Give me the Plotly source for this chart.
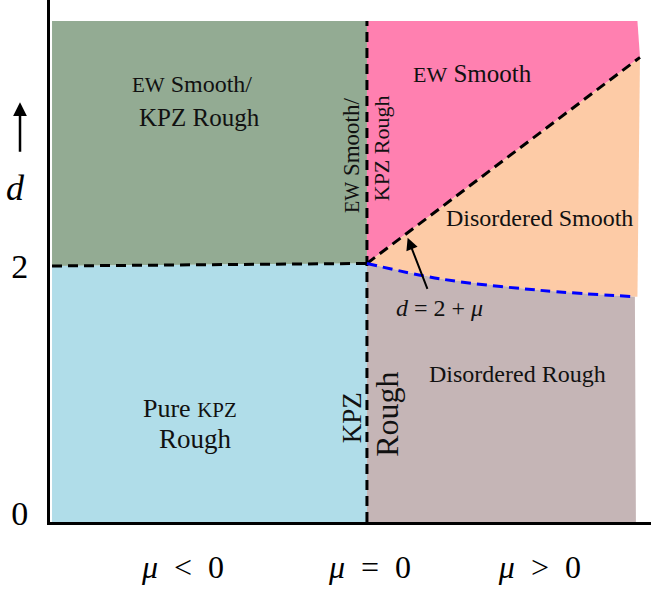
import plotly.graph_objects as go

# ---- phase boundary data (mu, d) ----
mu_left = -1.857
mu_top = 3.914
d_left_border = [2.00, 2.02]          # horizontal boundary d~2 for mu<0 (at mu_left, at 0)
mu_diag = [0.0, 1.61]                 # d = 2 + mu line
d_diag = [2.02, 3.63]
mu_blue = [0.0, 0.43, 1.02, 1.58]     # disordered smooth/rough boundary
d_blue = [2.02, 1.90, 1.81, 1.76]
mu_right_top = 1.595
mu_right_bottom = 1.586

colors = {
    "green": "#93ab93",
    "blue": "#b0dde9",
    "pink": "#ff80b0",
    "peach": "#fdcba6",
    "mauve": "#c5b5b6",
}

FONT = "Liberation Serif"

fig = go.Figure()

def region(xs, ys, color):
    fig.add_trace(go.Scatter(x=xs, y=ys, fill="toself", fillcolor=color,
                             mode="none", hoverinfo="skip", showlegend=False))

# green: EW smooth / KPZ rough (mu<0, d>2)
region([mu_left, mu_left, 0, 0], [d_left_border[0], mu_top, mu_top, d_left_border[1]], colors["green"])
# light blue: pure KPZ rough (mu<0, d<2)
region([mu_left, mu_left, 0, 0], [0, d_left_border[0], d_left_border[1], 0], colors["blue"])
# pink: EW smooth (mu>0, above d=2+mu)
region([0, 0, mu_right_top, mu_diag[1], mu_diag[0]],
       [d_diag[0], mu_top, mu_top, d_diag[1], d_diag[0]], colors["pink"])
# peach: disordered smooth
region([mu_diag[0], mu_diag[1], mu_right_top] + mu_blue[::-1],
       [d_diag[0], d_diag[1], d_blue[-1]] + d_blue[::-1], colors["peach"])
# mauve: disordered rough
region([0] + mu_blue + [mu_right_bottom, 0],
       [0] + d_blue + [0, 0], colors["mauve"])

# dashed boundaries
dash = "10px,6px"
fig.add_trace(go.Scatter(x=[mu_left, 0], y=d_left_border, mode="lines",
                         line=dict(color="black", width=3, dash=dash),
                         hoverinfo="skip", showlegend=False))
fig.add_trace(go.Scatter(x=[0, 0], y=[0, mu_top], mode="lines",
                         line=dict(color="black", width=3, dash=dash),
                         hoverinfo="skip", showlegend=False))
fig.add_trace(go.Scatter(x=mu_diag, y=d_diag, mode="lines",
                         line=dict(color="black", width=3, dash=dash),
                         hoverinfo="skip", showlegend=False))
fig.add_trace(go.Scatter(x=mu_blue, y=d_blue, mode="lines", line_shape="spline",
                         line=dict(color="#0000ff", width=3, dash=dash),
                         hoverinfo="skip", showlegend=False))

def sc(t, size):
    return "<span style='font-size:%dpx'>%s</span>" % (size, t)

# labels: text, mu, d, size, angle
labels = [
    (sc("EW", 21) + " Smooth/", -1.03, 3.42, 24, 0),
    ("KPZ Rough", -0.99, 3.16, 25, 0),
    (sc("EW", 22) + " Smooth", 0.625, 3.50, 25, 0),
    (sc("EW", 20) + " Smooth/", -0.088, 2.86, 23, -90),
    ("KPZ Rough", 0.083, 2.92, 22, -90),
    ("Disordered Smooth", 1.02, 2.375, 24, 0),
    ("<i>d</i> = 2 + <i>μ</i>", 0.43, 1.672, 24, 0),
    ("Disordered Rough", 0.89, 1.156, 24, 0),
    ("Pure " + sc("KPZ", 21), -1.044, 0.89, 26, 0),
    ("Rough", -1.01, 0.65, 27, 0),
    ("KPZ", -0.088, 0.81, 27, -90),
    ("Rough", 0.12, 0.84, 32, -90),
]
for text, x, y, size, ang in labels:
    fig.add_annotation(x=x, y=y, text=text, showarrow=False, textangle=ang,
                       font=dict(family=FONT, size=size, color="#111"))

# arrow pointing to d = 2 + mu line
fig.add_annotation(x=0.24, y=2.22, ax=0.36, ay=1.81, axref="x", ayref="y",
                   text="", showarrow=True, arrowhead=2, arrowsize=1.2,
                   arrowwidth=2, arrowcolor="black")

# d axis label with arrow
fig.add_annotation(xref="paper", x=-0.0566, xanchor="center", y=2.61, text="<i>d</i>",
                   showarrow=False, font=dict(family=FONT, size=36, color="black"))
fig.add_annotation(xref="paper", x=-0.0499, y=3.28, ax=0, ay=51, text="", showarrow=True,
                   arrowhead=2, arrowsize=1.1, arrowwidth=2.5, arrowcolor="black")

x_tick_vals = [-1.085, 0.018, 1.02]
x_tick_text = ["<i>μ</i>  <  0", "<i>μ</i>  =  0", "<i>μ</i>  >  0"]
y_tick_vals = [0.07, 2.0]
y_tick_text = ["0", "2"]

fig.update_xaxes(range=[-1.869, 1.675], showgrid=False, zeroline=False,
                 showline=True, linecolor="black", linewidth=3,
                 tickvals=x_tick_vals, ticktext=x_tick_text, ticks="",
                 ticklabelstandoff=15,
                 tickfont=dict(family=FONT, size=32, color="black"))
fig.update_yaxes(range=[0, 4.078], showgrid=False, zeroline=False,
                 showline=True, linecolor="black", linewidth=3,
                 tickvals=y_tick_vals, ticktext=y_tick_text, ticks="",
                 ticklabelstandoff=12,
                 tickfont=dict(family=FONT, size=34, color="black"))

fig.update_layout(width=651, height=594,
                  margin=dict(l=50, r=0, t=0, b=72),
                  plot_bgcolor="white", paper_bgcolor="white")

fig.write_html("out.html")
